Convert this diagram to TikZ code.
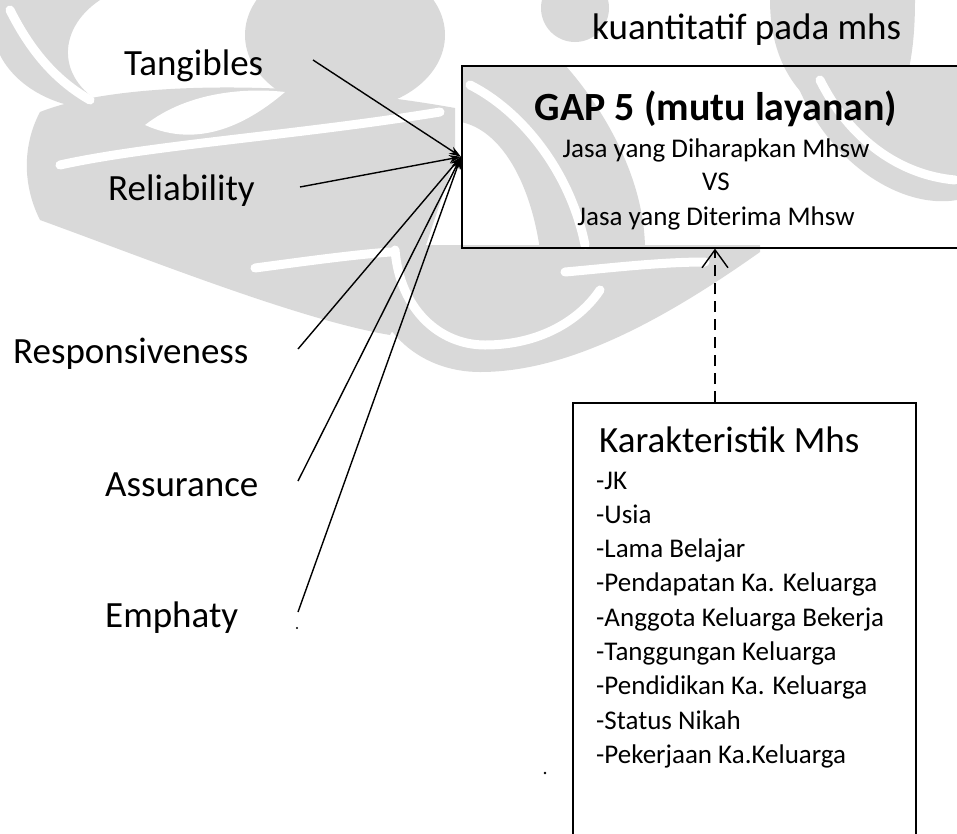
\documentclass[tikz,border=0pt]{standalone}
\usepackage{fontspec}
\setmainfont{Carlito}
\usetikzlibrary{arrows.meta,calc}
\definecolor{wm}{RGB}{217,217,217}
\begin{document}
\begin{tikzpicture}[x=1pt,y=-1pt,
  lbl/.style={inner sep=0pt, anchor=base west, font=\fontsize{37}{44}\selectfont},
  small/.style={inner sep=0pt, font=\fontsize{27}{32}\selectfont},
  frame/.style={draw, line width=1.6pt, inner sep=0pt, anchor=north west},
  feed/.style={line width=1.4pt, -{Stealth[length=12pt,width=8pt]}},
  dasharrow/.style={line width=1.6pt, dash pattern=on 11pt off 7pt,
    -{Straight Barb[length=18pt,width=26pt,line width=1.4pt]}},
  mark band/.style={fill=wm, draw=none},
  gap band/.style={draw=white, line width=9pt, line cap=round}
]
\useasboundingbox (0,0) rectangle (957,833);

% faint background emblem
\begin{scope}
  \clip (0,0) rectangle (957,833);
  \path[mark band] (0,0) -- (100,0) .. controls (55,30) and (55,85) .. (115,110)
        .. controls (55,112) and (15,85) .. (0,55) -- cycle;
  \path[mark band] (345,35) ellipse [x radius=100, y radius=75];
  \path[mark band] (575,8) circle [radius=34];
  \path[mark band] (770,0) .. controls (770,90) and (830,125) .. (870,125)
        .. controls (905,115) and (915,60) .. (915,0) -- cycle;
  \path[mark band] (40,112) .. controls (120,80) and (300,80) .. (455,108)
        -- (455,160) .. controls (430,230) and (410,300) .. (390,335)
        .. controls (300,320) and (150,260) .. (40,220)
        .. controls (20,180) and (25,140) .. (40,112) -- cycle;
  \path[mark band] (461,65) -- (565,65) .. controls (605,110) and (645,180) .. (645,250)
        -- (540,250) .. controls (530,180) and (500,130) .. (461,122) -- cycle;
  \path[mark band] (790,65) -- (957,65) -- (957,200)
        .. controls (900,210) and (820,160) .. (790,65) -- cycle;
  \path[mark band] (365,245) .. controls (365,330) and (420,372) .. (480,372)
        .. controls (560,372) and (650,330) .. (760,252) -- (760,245) -- cycle;
  % light gaps between the bands
  \path[fill=white] (145,125) .. controls (190,90) and (250,88) .. (285,92)
        .. controls (250,122) and (200,150) .. (145,125) -- cycle;
  \draw[gap band] (60,165) .. controls (150,145) and (300,135) .. (440,112);
  \draw[gap band] (255,268) .. controls (300,262) and (350,255) .. (390,252);
  \draw[gap band] (395,250) .. controls (400,310) and (440,345) .. (485,345)
        .. controls (540,345) and (580,320) .. (600,290);
  \draw[gap band] (565,272) .. controls (610,268) and (660,262) .. (705,262);
  \draw[gap band] (470,85) .. controls (520,110) and (570,170) .. (585,245);
  \draw[gap band] (820,80) .. controls (850,140) and (900,175) .. (955,180);
  \draw[gap band] (10,10) .. controls (30,50) and (55,80) .. (90,100);
\end{scope}

% heading above the quality box
\node[lbl] (top) at (592,39) {kuantitatif pada mhs};

% service quality box
\node[frame, minimum width=510pt, minimum height=182pt] (gap) at (461,65) {};
\node[inner sep=0pt, anchor=base, font=\bfseries\fontsize{40}{48}\selectfont] (title) at (716,120) {GAP 5 (mutu layanan)};
\node[small, anchor=base] (exp) at (716,157) {Jasa yang Diharapkan Mhsw};
\node[small, anchor=base] (vs)  at (716,190) {VS};
\node[small, anchor=base] (rec) at (716,225) {Jasa yang Diterima Mhsw};

% student characteristics box
\node[frame, fill=white, minimum width=343pt, minimum height=460pt] (kar) at (572,402) {};
\node[lbl] (karhead) at (599,452) {Karakteristik Mhs};
\foreach \t [count=\i from 0] in {-JK,-Usia,-Lama Belajar,-Pendapatan Ka. Keluarga,
  -Anggota Keluarga Bekerja,-Tanggungan Keluarga,-Pendidikan Ka. Keluarga,
  -Status Nikah,-Pekerjaan Ka.Keluarga}
  \node[small, anchor=base west] (item\i) at (596,489+34.3*\i) {\t};

% quality dimensions
\node[lbl] (tan) at (124,75)  {Tangibles};
\node[lbl] (rel) at (108,200) {Reliability};
\node[lbl] (res) at (13,363)  {Responsiveness};
\node[lbl] (ass) at (105,496) {Assurance};
\node[lbl] (emp) at (105,627) {Emphaty};

\coordinate (tanS) at (313,60);
\coordinate (relS) at (300,187);
\coordinate (resS) at (298,349);
\coordinate (assS) at (298,481);
\coordinate (empS) at (298,612);

\foreach \s in {tanS,relS,resS,assS,empS}
  \draw[feed] (\s) -- (gap.west);

% dashed influence arrow
\coordinate (dx) at (715,0);
\draw[dasharrow] (kar.north -| dx) -- (gap.south -| dx);

% stray specks
\fill (297,628) circle (1.1pt);
\fill (545,773) circle (1.4pt);
\end{tikzpicture}
\end{document}
